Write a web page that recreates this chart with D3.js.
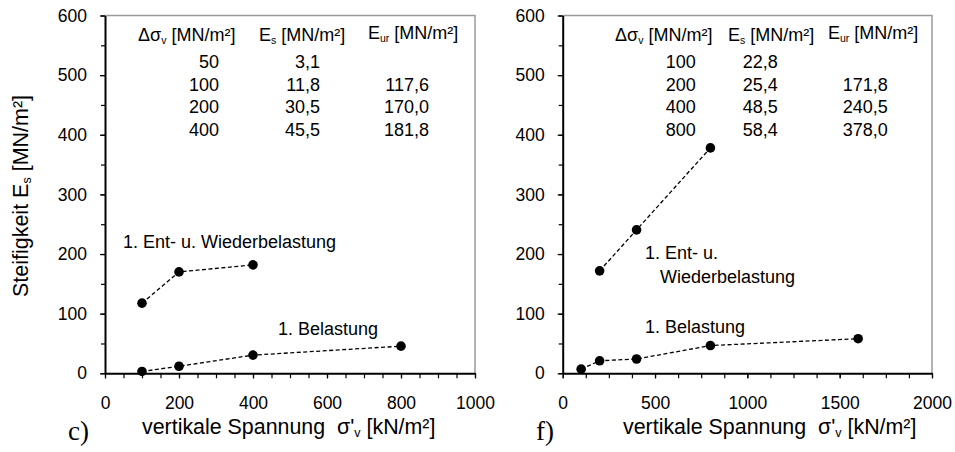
<!DOCTYPE html>
<html>
<head>
<meta charset="utf-8">
<script src="https://cdn.jsdelivr.net/npm/d3@7"></script>
<style>
  body { margin: 0; background: #fff; }
  svg { display: block; font-family: "Liberation Sans", Arial, sans-serif; }
  .tick text { font-family: "Liberation Sans", Arial, sans-serif; }
</style>
</head>
<body>
<div id="vis"></div>
<script>
// ---- data ----
// chart c)
const STRESS_C = [100, 200, 400, 800];
const LOADING_C = [3.1, 11.8, 30.5, 45.5];
const RELOAD_STRESS_C = [100, 200, 400];
const RELOAD_C = [117.6, 170.0, 181.8];
const X_TICKS_C = [0, 200, 400, 600, 800, 1000];

// chart f)
const STRESS_F = [100, 200, 400, 800, 1600];
const LOADING_F = [7, 21, 24, 46.5, 58];
const RELOAD_STRESS_F = [200, 400, 800];
const RELOAD_F = [171.8, 240.5, 378.0];
const X_TICKS_F = [0, 500, 1000, 1500, 2000];

const Y_TICKS = [0, 100, 200, 300, 400, 500, 600];

// tables in the upper part of each chart
const DSV_C = ["50", "100", "200", "400"];
const ES_C = ["3,1", "11,8", "30,5", "45,5"];
const EUR_C = ["", "117,6", "170,0", "181,8"];
const DSV_F = ["100", "200", "400", "800"];
const ES_F = ["22,8", "25,4", "48,5", "58,4"];
const EUR_F = ["", "171,8", "240,5", "378,0"];

// ---- frame ----
const FRAME_WIDTH = 955;
const FRAME_HEIGHT = 452;

const SVG = d3.select("#vis")
  .append("svg")
    .attr("width", FRAME_WIDTH)
    .attr("height", FRAME_HEIGHT);

// draws one panel
function drawPanel(opt) {

  const X_SCALE = d3.scaleLinear()
                    .domain([0, opt.xMax])
                    .range([opt.left, opt.right]);
  const Y_SCALE = d3.scaleLinear()
                    .domain([0, 600])
                    .range([373.3, 15.5]);

  // grey frame top and right
  SVG.append("path")
     .attr("d", "M" + opt.left + "," + Y_SCALE(600) + "H" + opt.right + "V" + Y_SCALE(0))
     .attr("fill", "none")
     .attr("stroke", "#9a9a9a")
     .attr("stroke-width", 1.5);

  // minor x ticks
  SVG.append("g")
     .attr("transform", "translate(0," + Y_SCALE(0) + ")")
     .call(d3.axisBottom(X_SCALE).tickValues(d3.range(0, opt.xMax + 1, opt.xMinor))
             .tickSize(5).tickFormat(""))
     .call(g => g.select(".domain").remove())
     .selectAll("line").attr("stroke-width", 1.2);

  // major x axis
  SVG.append("g")
     .attr("transform", "translate(0," + Y_SCALE(0) + ")")
     .call(d3.axisBottom(X_SCALE).tickValues(opt.xTicks).tickSize(5).tickPadding(18)
             .tickSizeOuter(0).tickFormat(d3.format("d")))
     .call(g => g.select(".domain").attr("stroke-width", 2))
     .call(g => g.selectAll("line").attr("stroke-width", 1.2))
     .selectAll("text")
       .attr("font-size", "17.5px")
       .attr("fill", "#000");

  // minor y ticks
  SVG.append("g")
     .attr("transform", "translate(" + opt.left + ",0)")
     .call(d3.axisLeft(Y_SCALE).tickValues(d3.range(0, 601, 50)).tickSize(4).tickFormat(""))
     .call(g => g.select(".domain").remove())
     .selectAll("line").attr("stroke-width", 1.2);

  // major y axis
  SVG.append("g")
     .attr("transform", "translate(" + opt.left + ",0)")
     .call(d3.axisLeft(Y_SCALE).tickValues(Y_TICKS).tickSize(5).tickPadding(13)
             .tickSizeOuter(0).tickFormat(d3.format("d")))
     .call(g => g.select(".domain").attr("stroke-width", 2))
     .call(g => g.selectAll("line").attr("stroke-width", 1.2))
     .selectAll("text")
       .attr("font-size", "17.5px")
       .attr("fill", "#000");

  // dashed lines + dots for both series
  const LINE = d3.line()
                 .x((d) => { return X_SCALE(d[0]); })
                 .y((d) => { return Y_SCALE(d[1]); });

  [opt.loading, opt.reload].forEach((series) => {
    SVG.append("path")
       .datum(series)
       .attr("d", LINE)
       .attr("fill", "none")
       .attr("stroke", "#000")
       .attr("stroke-width", 1.3)
       .attr("stroke-dasharray", "4,2.5");

    SVG.selectAll(null)
       .data(series)
       .enter()
       .append("circle")
         .attr("cx", (d) => { return X_SCALE(d[0]); })
         .attr("cy", (d) => { return Y_SCALE(d[1]); })
         .attr("r", 4.8)
         .attr("fill", "#000");
  });

  // table header: symbol with subscript and unit
  const HEAD_Y = 41;
  const head = (x, y, main, sub) => {
    const t = SVG.append("text")
                 .attr("x", x).attr("y", y)
                 .attr("font-size", "18px");
    t.append("tspan").text(main);
    t.append("tspan").text(sub).attr("font-size", "10.5px").attr("dy", 3);
    t.append("tspan").text(" [MN/m\u00b2]").attr("dy", -3);
  };
  head(opt.headX[0], HEAD_Y, "\u0394\u03c3", "v");
  head(opt.headX[1], HEAD_Y, "E", "s");
  head(opt.headX[2], HEAD_Y - 2, "E", "ur");

  // table rows
  [opt.dsv, opt.es, opt.eur].forEach((col, c) => {
    SVG.selectAll(null)
       .data(col)
       .enter()
       .append("text")
         .attr("x", opt.left + opt.colX[c])
         .attr("y", (d, i) => { return 68 + i * 22.5; })
         .attr("text-anchor", "end")
         .attr("font-size", "18px")
         .text((d) => { return d; });
  });

  // series labels
  opt.labels.forEach((l) => {
    SVG.append("text")
       .attr("x", l.x).attr("y", l.y)
       .attr("font-size", "18px")
       .text(l.text);
  });

  // panel letter (serif) and x axis title
  SVG.append("text")
     .attr("x", opt.letterX).attr("y", 440)
     .attr("font-family", "Liberation Serif, Times New Roman, serif")
     .attr("font-size", "27px")
     .text(opt.letter);

  const title = SVG.append("text")
                   .attr("x", opt.titleX).attr("y", 434)
                   .attr("font-size", "21.4px");
  title.append("tspan").text("vertikale Spannung \u00a0\u03c3'");
  title.append("tspan").text("v").attr("font-size", "12.5px").attr("dy", 3);
  title.append("tspan").text(" [kN/m\u00b2]").attr("dy", -3);
}

// panel c)
drawPanel({
  left: 105, right: 475, xMax: 1000, xMinor: 50, xTicks: X_TICKS_C,
  loading: STRESS_C.map((x, i) => [x, LOADING_C[i]]),
  reload: RELOAD_STRESS_C.map((x, i) => [x, RELOAD_C[i]]),
  headX: [138, 259, 368], colX: [114, 215, 324],
  dsv: DSV_C, es: ES_C, eur: EUR_C,
  labels: [
    {x: 123, y: 248, text: "1. Ent- u. Wiederbelastung"},
    {x: 278, y: 335, text: "1. Belastung"}
  ],
  letter: "c)", letterX: 68, titleX: 142
});

// panel f)
drawPanel({
  left: 562.7, right: 932, xMax: 2000, xMinor: 125, xTicks: X_TICKS_F,
  loading: STRESS_F.map((x, i) => [x, LOADING_F[i]]),
  reload: RELOAD_STRESS_F.map((x, i) => [x, RELOAD_F[i]]),
  headX: [615, 728, 828], colX: [133, 215, 325],
  dsv: DSV_F, es: ES_F, eur: EUR_F,
  labels: [
    {x: 645, y: 259, text: "1. Ent- u."},
    {x: 660, y: 283, text: "Wiederbelastung"},
    {x: 645, y: 333, text: "1. Belastung"}
  ],
  letter: "f)", letterX: 536, titleX: 623
});

// y axis title (only on the left)
const YT = SVG.append("text")
              .attr("transform", "translate(28,196) rotate(-90)")
              .attr("text-anchor", "middle")
              .attr("font-size", "21.5px");
YT.append("tspan").text("Steifigkeit E");
YT.append("tspan").text("s").attr("font-size", "12.5px").attr("dy", 3);
YT.append("tspan").text(" [MN/m\u00b2]").attr("dy", -3);
</script>
</body>
</html>
